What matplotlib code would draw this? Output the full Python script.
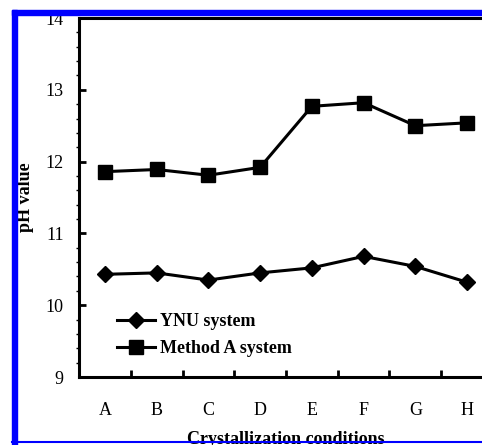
import matplotlib
matplotlib.use("Agg")
import matplotlib.pyplot as plt
from matplotlib.lines import Line2D
from matplotlib.patches import Rectangle
from matplotlib.ticker import MultipleLocator

conditions = ["A", "B", "C", "D", "E", "F", "G", "H"]
ynu = [10.43, 10.45, 10.35, 10.45, 10.52, 10.68, 10.54, 10.32]
method_a = [11.86, 11.89, 11.81, 11.92, 12.77, 12.82, 12.50, 12.54]

plt.rcParams["font.family"] = ["Liberation Serif", "DejaVu Serif"]

W, H = 482, 445
fig = plt.figure(figsize=(W / 100, H / 100), dpi=100)

# axes in pixel terms: left 79, right 493 (past the edge), top 18, bottom 377
ax = fig.add_axes([79 / W, 1 - 377 / H, (493 - 79) / W, (377 - 18) / H])

x = list(range(len(conditions)))
ax.plot(x, ynu, color="black", lw=2.2, marker="D", ms=8, label="YNU system")
ax.plot(x, method_a, color="black", lw=2.2, marker="s", ms=9.5, label="Method A system")

ax.set_xlim(-0.5, 7.5)
ax.set_ylim(9, 14)

for s in ax.spines.values():
    s.set_linewidth(2.2)

ax.set_xticks(x)
ax.set_xticklabels(conditions)
ax.set_xticks([i + 0.5 for i in x], minor=True)
ax.tick_params(axis="x", which="major", length=0, pad=18, labelsize=13)
ax.tick_params(axis="x", which="minor", direction="in", length=5, width=2)

ax.yaxis.set_major_locator(MultipleLocator(1))
ax.yaxis.set_minor_locator(MultipleLocator(0.2))
ax.tick_params(axis="y", which="major", direction="in", length=5, width=2,
               pad=11, labelsize=13)
ax.tick_params(axis="y", which="minor", direction="out", length=2.5, width=1)

ax.set_ylabel("pH value", fontsize=13, fontweight="bold", labelpad=8)
ax.set_xlabel("Crystallization conditions", fontsize=13, fontweight="bold",
              labelpad=9)

ax.legend(loc="center left", bbox_to_anchor=(0.092, 0.116), frameon=False,
          prop={"weight": "bold", "size": 13}, handlelength=2.1,
          handletextpad=0.3, labelspacing=0.55, borderpad=0, borderaxespad=0)

# blue border of the scanned figure
blue = "#0000ff"
fig.patches.append(Rectangle((12 / W, 0), 5 / W, 1 - 10 / H, color=blue,
                             transform=fig.transFigure, zorder=10))
fig.patches.append(Rectangle((12 / W, 1 - 15 / H), 1, 5 / H, color=blue,
                             transform=fig.transFigure, zorder=10))
fig.add_artist(Line2D([12 / W, 1], [1 - 442 / H, 1 - 442 / H], color=blue,
                      lw=1.5, transform=fig.transFigure, zorder=10))

fig.savefig("out.png", dpi=100)
